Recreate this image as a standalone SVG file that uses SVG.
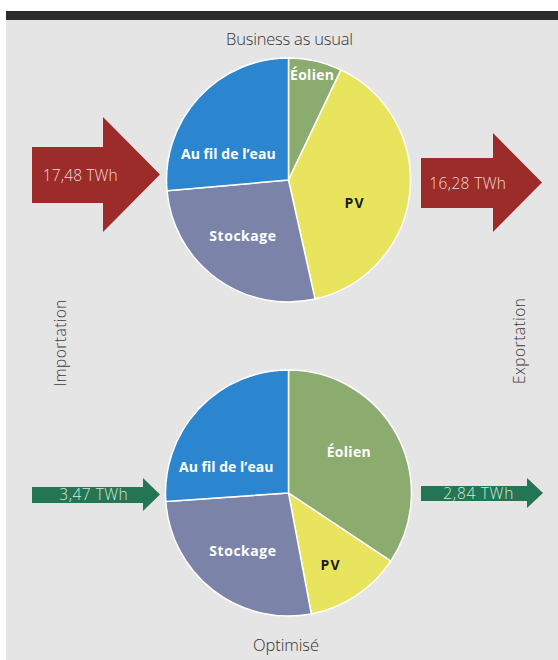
<svg xmlns="http://www.w3.org/2000/svg" width="558" height="660" viewBox="0 0 558 660">
  <style>
    .bg { fill: #e5e5e6; }
    .slice { stroke: #ffffff; stroke-width: 1.5; stroke-linejoin: round; }
    .blue { fill: #2b86cf; }
    .wind { fill: #8cab6f; }
    .pv { fill: #e9e45e; }
    .stock { fill: #7b84a8; }
    .lbl { font-family: "Open Sans", "Liberation Sans", sans-serif; font-weight: 700; font-size: 14px; text-anchor: middle; fill: #ffffff; }
    .lbl.dark { fill: #1a1a1a; }
    .title { font-family: "Open Sans", "Liberation Sans", sans-serif; font-weight: 300; font-size: 16.5px; text-anchor: middle; fill: #333333; }
    .side { font-family: "Open Sans", "Liberation Sans", sans-serif; font-weight: 300; font-size: 15.5px; text-anchor: middle; fill: #3a3a3a; }
    .red { fill: #9b2c29; }
    .green { fill: #247553; }
    .val { font-family: "Open Sans", "Liberation Sans", sans-serif; font-weight: 300; font-size: 15.5px; }
    .val.r { fill: #f3d9d5; }
    .val.g { fill: #d3e9da; }
  </style>

  <rect x="0" y="0" width="558" height="660" fill="#ffffff"/>
  <rect class="bg" x="6" y="19" width="552" height="641"/>
  <rect x="6" y="11" width="552" height="9" fill="#2b2b2b"/>

  <text class="title" x="289.5" y="45" textLength="127">Business as usual</text>
  <text class="title" x="286" y="651" textLength="66">Optimisé</text>
  <text class="side" transform="translate(66,343) rotate(-90)" textLength="87">Importation</text>
  <text class="side" transform="translate(524.5,341) rotate(-90)" textLength="86">Exportation</text>

  <g id="pie-bau">
    <g id="bau-eolien">
      <path class="slice wind" d="M288.5,180 L288.5,58 A122,122 0 0 1 341,69.9 Z"/>
      <text class="lbl" x="312" y="80" textLength="44">Éolien</text>
    </g>
    <g id="bau-pv">
      <path class="slice pv" d="M288.5,180 L341,69.9 A122,122 0 0 1 315.1,299.1 Z"/>
      <text class="lbl dark" x="354" y="207.5" textLength="19">PV</text>
    </g>
    <g id="bau-stockage">
      <path class="slice stock" d="M288.5,180 L315.1,299.1 A122,122 0 0 1 167,190.8 Z"/>
      <text class="lbl" x="242.7" y="240.5" textLength="66.7">Stockage</text>
    </g>
    <g id="bau-fil">
      <path class="slice blue" d="M288.5,180 L167,190.8 A122,122 0 0 1 288.5,58 Z"/>
      <text class="lbl" x="228.3" y="159" textLength="94.7">Au fil de l’eau</text>
    </g>
  </g>

  <g id="pie-opt">
    <g id="opt-eolien">
      <path class="slice wind" d="M288.5,493 L288.5,370 A123,123 0 0 1 390.8,561.2 Z"/>
      <text class="lbl" x="348.7" y="456.7" textLength="44">Éolien</text>
    </g>
    <g id="opt-pv">
      <path class="slice pv" d="M288.5,493 L390.8,561.2 A123,123 0 0 1 311.3,613.9 Z"/>
      <text class="lbl dark" x="330" y="570" textLength="19">PV</text>
    </g>
    <g id="opt-stockage">
      <path class="slice stock" d="M288.5,493 L311.3,613.9 A123,123 0 0 1 165.8,501.4 Z"/>
      <text class="lbl" x="242.7" y="555.5" textLength="66.7">Stockage</text>
    </g>
    <g id="opt-fil">
      <path class="slice blue" d="M288.5,493 L165.8,501.4 A123,123 0 0 1 288.5,370 Z"/>
      <text class="lbl" x="226.2" y="471.7" textLength="94.3">Au fil de l’eau</text>
    </g>
  </g>

  <g id="connectors">
    <g id="import-bau">
      <polygon class="red" points="32,147 103,147 103,117 160,174.5 103,232 103,203 32,203"/>
      <text class="val r" x="42.7" y="181" textLength="75">17,48 TWh</text>
    </g>
    <g id="export-bau">
      <polygon class="red" points="421,158 493,158 493,133 542,182.5 493,232 493,208 421,208"/>
      <text class="val r" x="429.3" y="188.7" textLength="76.7">16,28 TWh</text>
    </g>
    <g id="import-opt">
      <polygon class="green" points="32,487 143,487 143,478 160,494.5 143,511 143,503 32,503"/>
      <text class="val g" x="59.3" y="500" textLength="68.4">3,47 TWh</text>
    </g>
    <g id="export-opt">
      <polygon class="green" points="421,486 527,486 527,478 543,493 527,508 527,501 421,501"/>
      <text class="val g" x="443.3" y="498.7" textLength="70">2,84 TWh</text>
    </g>
  </g>
</svg>
